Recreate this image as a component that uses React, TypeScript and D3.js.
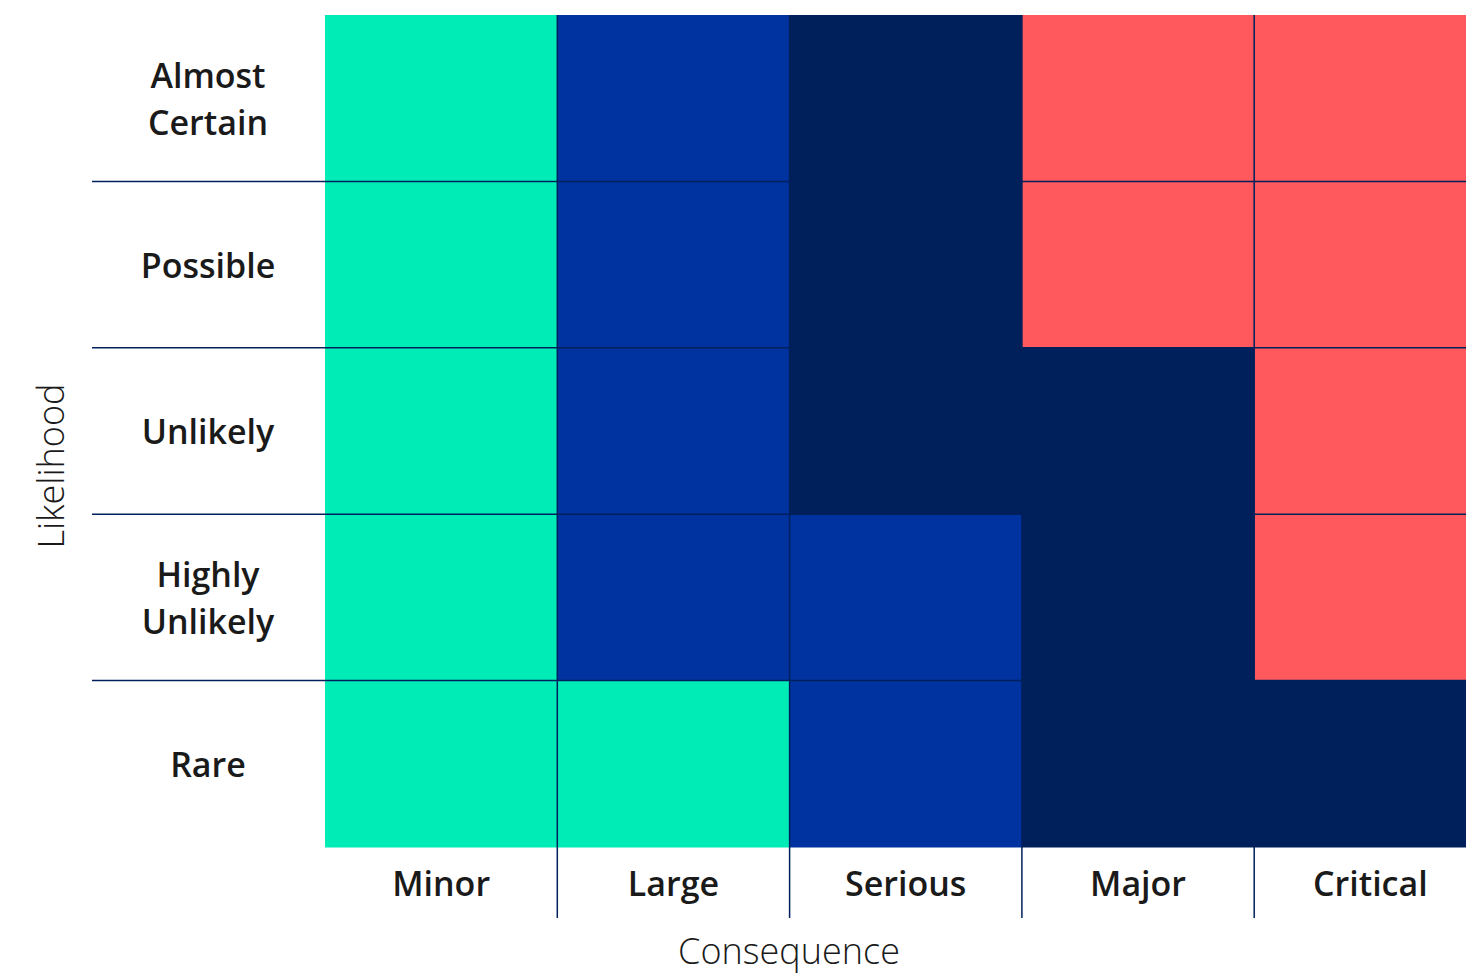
import React from "react";
import * as d3 from "d3";

const likelihood = ["Almost Certain", "Possible", "Unlikely", "Highly Unlikely", "Rare"];
const consequence = ["Minor", "Large", "Serious", "Major", "Critical"];

// risk level per row (likelihood) and column (consequence)
const almostCertain = ["low", "medium", "high", "extreme", "extreme"];
const possible = ["low", "medium", "high", "extreme", "extreme"];
const unlikely = ["low", "medium", "high", "high", "extreme"];
const highlyUnlikely = ["low", "medium", "medium", "high", "extreme"];
const rare = ["low", "low", "medium", "high", "high"];

const levels = ["low", "medium", "high", "extreme"];
const levelColors = ["#00ecb7", "#0033a0", "#00205b", "#ff585d"];

const rows = [almostCertain, possible, unlikely, highlyUnlikely, rare];

const App = () => {
	const width = 1466;
	const height = 975;
	const margin = { top: 15, left: 325, bottom: 128 };
	const cellW = 232.3;

	const x = d3
		.scaleBand()
		.domain(consequence)
		.range([margin.left, margin.left + cellW * consequence.length]);
	const y = d3
		.scaleBand()
		.domain(likelihood)
		.range([margin.top, height - margin.bottom]);
	const color = d3.scaleOrdinal().domain(levels).range(levelColors);

	const cells = [];
	rows.forEach((r, i) => {
		r.forEach((lvl, j) => {
			cells.push({ row: likelihood[i], col: consequence[j], lvl });
		});
	});

	const lineColor = "#00205b";
	const labelFont = "'Open Sans', Lato, sans-serif";

	return (
		<svg
			width={width}
			height={height}
			style={{ position: "absolute", left: 0, top: 0 }}
			fontFamily={labelFont}
		>
			{cells.map((c, i) => (
				<rect
					key={i}
					x={x(c.col)}
					y={y(c.row)}
					width={x.bandwidth() + 0.5}
					height={y.bandwidth() + 0.5}
					fill={color(c.lvl)}
				/>
			))}

			{/* row separators */}
			{likelihood.slice(1).map((l) => (
				<line
					key={l}
					x1={92}
					x2={x.range()[1]}
					y1={y(l)}
					y2={y(l)}
					stroke={lineColor}
					strokeWidth={1.5}
				/>
			))}

			{/* column separators */}
			{consequence.slice(1).map((c) => (
				<line
					key={c}
					x1={x(c)}
					x2={x(c)}
					y1={margin.top}
					y2={918}
					stroke={lineColor}
					strokeWidth={1.5}
				/>
			))}

			{/* likelihood labels */}
			{likelihood.map((l) => {
				const words = l.split(" ");
				const cy = y(l) + y.bandwidth() / 2;
				const lh = 47;
				const parts = words.length > 1 ? words : [l];
				return (
					<text
						key={l}
						x={208}
						y={cy + 13 - ((parts.length - 1) * lh) / 2}
						textAnchor="middle"
						fontSize={34}
						fontWeight={600}
						fill="#1a1a1a"
					>
						{parts.map((p, k) => (
							<tspan key={k} x={208} dy={k === 0 ? 0 : lh}>
								{p}
							</tspan>
						))}
					</text>
				);
			})}

			{/* consequence labels */}
			{consequence.map((c) => (
				<text
					key={c}
					x={x(c) + x.bandwidth() / 2}
					y={896}
					textAnchor="middle"
					fontSize={34}
					fontWeight={600}
					fill="#1a1a1a"
				>
					{c}
				</text>
			))}

			<text
				x={789}
				y={964}
				textAnchor="middle"
				fontSize={36}
				fontWeight={300}
				fill="#1a1a1a"
			>
				Consequence
			</text>
			<text
				transform={`translate(64,466) rotate(-90)`}
				textAnchor="middle"
				fontSize={36}
				fontWeight={300}
				fill="#1a1a1a"
			>
				Likelihood
			</text>
		</svg>
	);
};

export default App;
